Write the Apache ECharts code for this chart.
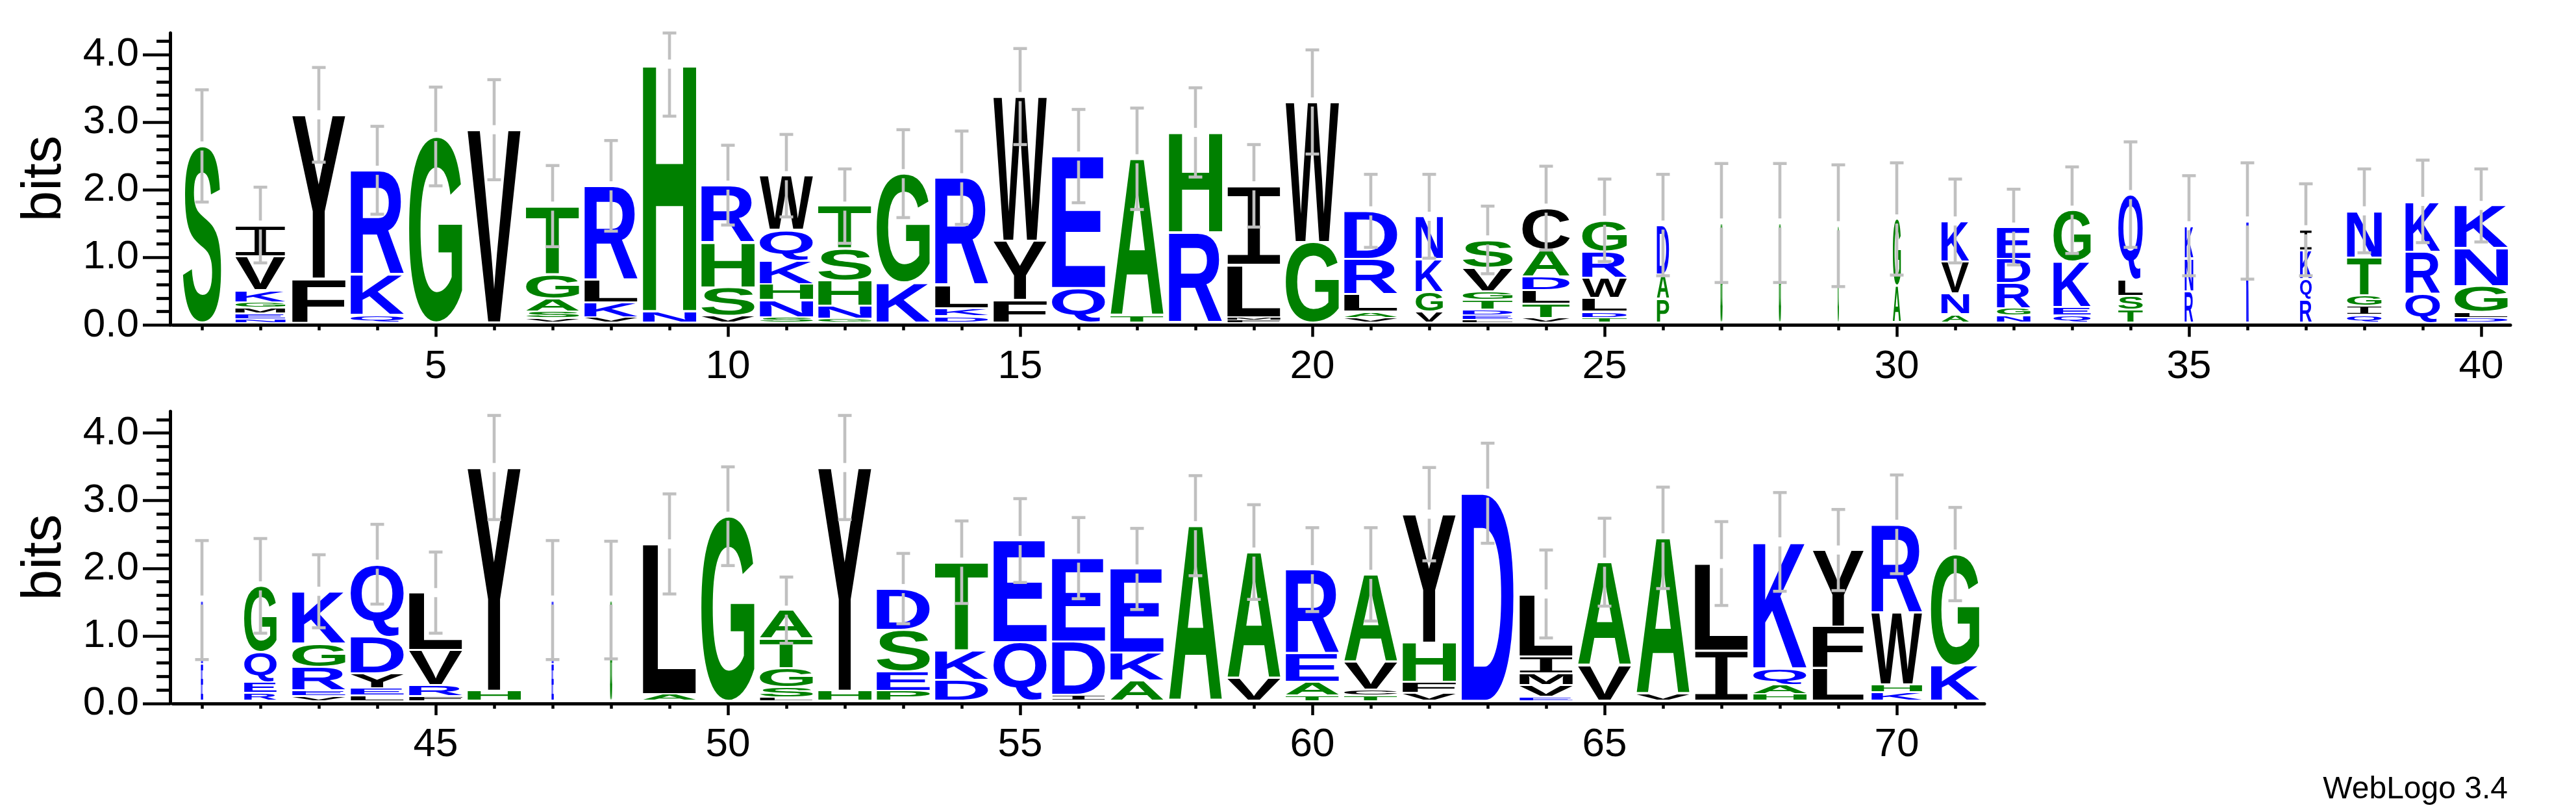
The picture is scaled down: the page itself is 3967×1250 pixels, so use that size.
<!DOCTYPE html>
<html>
<head>
<meta charset="utf-8">
<script src="https://cdn.jsdelivr.net/npm/echarts@6/dist/echarts.min.js"></script>
<style>
html,body{margin:0;padding:0;background:#ffffff;}
#chart{width:3967px;height:1250px;}
</style>
</head>
<body>
<div id="chart"></div>
<script>
// Letters of each stack, listed bottom -> top; heights in bits in the same order.
const lettersTop = ["S","NEMGKVI","FY","QKR","G","V","VSAGT","VKLR","NH","VSHR",
  "SNHKQW","GNHST","KG","DKLR","FYW","QE","TA","RH","FMLI","GW",
  "VALRD","VGKN","LEDTGVS","VTLDAC","TDLWRG","PAD","G","G","G","AG",
  "ANVK","NGRDE","QEKG","TSLQ","RNK","K","RQKI","QIGTN","QRK","DLGNK"];
const heightsTop = [
  [2.61],[0.05,0.09,0.08,0.08,0.18,0.50,0.46],[0.65,2.42],[0.11,0.60,1.54],[2.75],[2.85],
  [0.06,0.10,0.19,0.36,1.01],[0.08,0.22,0.33,1.39],[0.17,3.65],[0.10,0.42,0.66,0.85],
  [0.08,0.25,0.24,0.35,0.45,0.80],[0.06,0.19,0.37,0.47,0.63],[0.59,1.61],[0.09,0.12,0.34,1.59],
  [0.33,0.88,2.13],[0.51,1.95],[0.10,2.32],[1.33,1.48],[0.04,0.04,0.77,1.17],[1.19,2.07],
  [0.07,0.09,0.26,0.52,0.71],[0.16,0.29,0.49,0.63],[0.04,0.07,0.08,0.14,0.13,0.35,0.41],
  [0.07,0.21,0.20,0.20,0.40,0.61],[0.07,0.09,0.20,0.30,0.39,0.46],[0.35,0.36,0.73],
  [1.47],[1.47],[1.43],[0.54,0.99],[0.12,0.31,0.47,0.60],[0.10,0.11,0.37,0.36,0.47],
  [0.10,0.13,0.67,0.76],[0.19,0.20,0.24,1.26],[0.46,0.49,0.48],[1.50],[0.34,0.30,0.42,0.31],
  [0.11,0.14,0.15,0.56,0.69],[0.43,0.62,0.74],[0.07,0.09,0.38,0.56,0.63]];
const widthsTop = [0.72,0.94,1,1,1,1,1,1,1,1, 1,1,1,1,1,1,1,1,1,1,
  1,0.51,0.94,0.89,0.84,0.23,0.04,0.04,0.03,0.15, 0.52,0.63,0.70,0.46,0.16,0.05,0.22,0.65,0.65,1];
const errorsTop = [0.83,0.56,0.70,0.65,0.73,0.74,0.60,0.67,0.77,0.59,
  0.61,0.55,0.65,0.69,0.71,0.69,0.75,0.66,0.61,0.77,
  0.54,0.62,0.50,0.62,0.61,0.75,0.88,0.88,0.90,0.83,
  0.62,0.56,0.64,0.78,0.74,0.86,0.68,0.62,0.61,0.54];

const lettersBottom = ["EN","REQG","VERGK","LEYDQ","FRVL","HY","EN","G","AL","G",
  "LSGTA","HY","PESD","DKT","QE","IDE","AKE","A","VA","TAER",
  "TCVA","VFHY","D","EVMIL","VA","VA","IL","HAQK","LFY","KHWR","KG"];
const heightsBottom = [
  [0.54,0.95],[0.12,0.16,0.44,0.98],[0.07,0.08,0.35,0.35,0.77],[0.08,0.11,0.22,0.54,1.07],
  [0.07,0.16,0.52,0.85],[0.15,3.30],[0.54,0.95],[1.49],[0.10,2.22],[2.73],
  [0.05,0.15,0.28,0.44,0.42],[0.15,3.30],[0.15,0.29,0.61,0.61],[0.31,0.44,1.30],[0.87,1.50],
  [0.09,0.79,1.23],[0.30,0.41,1.24],[2.59],[0.33,1.87],[0.08,0.20,0.42,1.24],
  [0.08,0.09,0.41,1.29],[0.12,0.16,0.58,1.90],[3.07],[0.06,0.17,0.18,0.25,0.92],[0.52,1.53],
  [0.10,2.31],[0.74,1.29],[0.10,0.14,0.24,1.87],[0.48,0.62,1.13],[0.13,0.11,1.06,1.31],[0.52,1.65]];
const widthsBottom = [0.04,0.61,1,1,1,1,0.04,0.04,1,1, 1,1,1,1,1,1,1,1,1,1,
  1,1,0.98,1,1,1,1,1,0.96,0.95, 0.91];
const errorsBottom = [0.88,0.70,0.54,0.59,0.60,0.77,0.88,0.87,0.74,0.73,
  0.49,0.77,0.52,0.61,0.62,0.60,0.60,0.74,0.70,0.62,
  0.69,0.69,0.74,0.65,0.65,0.75,0.62,0.73,0.60,0.73, 0.69];

const firstPosTop = 1;
const firstPosBottom = 41;

// axis ticks and labels
const xTicksTop = [1,2,3,4,5,6,7,8,9,10,11,12,13,14,15,16,17,18,19,20,21,22,23,24,25,26,27,28,29,30,31,32,33,34,35,36,37,38,39,40];
const xLabelsTop = [5,10,15,20,25,30,35,40];
const xTicksBottom = [41,42,43,44,45,46,47,48,49,50,51,52,53,54,55,56,57,58,59,60,61,62,63,64,65,66,67,68,69,70,71];
const xLabelsBottom = [45,50,55,60,65,70];
const yMajorTicks = [0,1,2,3,4];
const yMinorTicks = [0.2,0.4,0.6,0.8,1.2,1.4,1.6,1.8,2.2,2.4,2.6,2.8,3.2,3.4,3.6,3.8,4.2];

// ---------------- STYLE ----------------
const YMAX = 4.32;
const BASE = 0.04;          // stacks start just above the x axis line
const BOX_FRAC = 82 / 90;   // full stack width as a fraction of one position
const PAD = 1.5;
const ERR_COLOR = '#c0c0c0';
const FONT_FAMILY = '"Liberation Sans", Arial, Helvetica, sans-serif';
const LETTER_FONT = 'bold 200px ' + FONT_FAMILY;
const I_FONT = '200px "Liberation Mono", "DejaVu Sans Mono", monospace';
const COLORS = {};
'RKDENQ'.split('').forEach(c => COLORS[c] = '#0000ff');
'SGHTAP'.split('').forEach(c => COLORS[c] = '#008000');
'YVMCLFIW'.split('').forEach(c => COLORS[c] = '#000000');

const metricCache = {};
const mctx = document.createElement('canvas').getContext('2d');
function metrics(ch) {
  if (metricCache[ch]) return metricCache[ch];
  const font = ch === 'I' ? I_FONT : LETTER_FONT;
  mctx.font = font;
  mctx.textBaseline = 'middle';
  mctx.textAlign = 'left';
  const m = mctx.measureText(ch);
  const r = {
    font: font,
    left: m.actualBoundingBoxLeft,
    asc: m.actualBoundingBoxAscent,
    w: m.actualBoundingBoxLeft + m.actualBoundingBoxRight,
    h: m.actualBoundingBoxAscent + m.actualBoundingBoxDescent
  };
  metricCache[ch] = r;
  return r;
}

function buildGlyphs(firstPos, letters, heights, widths) {
  const glyphs = [];
  letters.forEach((str, i) => {
    let y = BASE;
    for (let k = 0; k < str.length; k++) {
      const h = heights[i][k];
      glyphs.push({ value: [firstPos + i, y, y + h, widths[i]], ch: str[k] });
      y += h;
    }
  });
  return glyphs;
}
function buildErrors(firstPos, heights, errors) {
  return heights.map((hs, i) => {
    const top = BASE + hs.reduce((a, b) => a + b, 0);
    return [firstPos + i, top, errors[i]];
  });
}

function glyphEl(ch, bx0, bx1, by0, by1) {
  const m = metrics(ch);
  const sx = (bx1 - bx0) / m.w;
  const sy = Math.max(by1 - by0, 0.5) / m.h;
  return {
    type: 'text',
    x: bx0 + sx * m.left,
    y: by0 + sy * m.asc,
    scaleX: sx,
    scaleY: sy,
    silent: true,
    style: {
      x: 0, y: 0,
      text: ch,
      font: m.font,
      fill: COLORS[ch],
      align: 'left', verticalAlign: 'middle',
      textAlign: 'left', textVerticalAlign: 'middle'
    }
  };
}

function letterRenderer(glyphs) {
  return function (params, api) {
    const g = glyphs[params.dataIndex];
    const pos = api.value(0), y0 = api.value(1), y1 = api.value(2), w = api.value(3);
    const half = 0.5 * BOX_FRAC * w;
    const tl = api.coord([pos - half, y1]);
    const br = api.coord([pos + half, y0]);
    const bh = br[1] - tl[1];
    const pad = Math.min(PAD, bh * 0.15);
    const bx0 = tl[0], bx1 = br[0];
    const by0 = tl[1] + pad, by1 = br[1] - pad;
    const bw = bx1 - bx0;
    if (bw < 8) {
      // very narrow stacks: overlay a few 1px-shifted copies so the glyph reads as a solid sliver
      const inner = Math.max(1, bw - 2);
      const children = [];
      for (let d = 0; d <= bw - inner + 0.01; d += 0.5) {
        children.push(glyphEl(g.ch, bx0 + d, bx0 + d + inner, by0, by1));
      }
      return { type: 'group', silent: true, children: children };
    }
    return glyphEl(g.ch, bx0, bx1, by0, by1);
  };
}

function errorRenderer(params, api) {
  const pos = api.value(0), top = api.value(1), err = api.value(2);
  const hi = Math.min(top + err, YMAX), lo = Math.max(top - err, 0);
  const pT = api.coord([pos, hi]), pC = api.coord([pos, top]), pB = api.coord([pos, lo]);
  const x = pC[0], cw = 10.5, gap = 7;
  const st = { stroke: ERR_COLOR, lineWidth: 4.6, fill: null };
  return {
    type: 'group',
    silent: true,
    children: [
      { type: 'line', shape: { x1: x, y1: pT[1], x2: x, y2: pC[1] - gap }, style: st },
      { type: 'line', shape: { x1: x, y1: pC[1] + gap, x2: x, y2: pB[1] }, style: st },
      { type: 'line', shape: { x1: x - cw, y1: pT[1], x2: x + cw, y2: pT[1] }, style: st },
      { type: 'line', shape: { x1: x - cw, y1: pB[1], x2: x + cw, y2: pB[1] }, style: st }
    ]
  };
}

const glyphsTop = buildGlyphs(firstPosTop, lettersTop, heightsTop, widthsTop);
const glyphsBottom = buildGlyphs(firstPosBottom, lettersBottom, heightsBottom, widthsBottom);
const errTop = buildErrors(firstPosTop, heightsTop, errorsTop);
const errBottom = buildErrors(firstPosBottom, heightsBottom, errorsBottom);

const labelStyle = { fontSize: 62, fontFamily: FONT_FAMILY, color: '#000' };
function xAxes(grid, min, max, ticks, labels) {
  return [
    { gridIndex: grid, type: 'value', position: 'bottom', min: min, max: max,
      axisLine: { show: true, onZero: false, lineStyle: { color: '#000', width: 5 } },
      axisTick: { show: true, customValues: ticks, length: 8, lineStyle: { color: '#000', width: 4.5 } },
      axisLabel: { show: false }, splitLine: { show: false } },
    { gridIndex: grid, type: 'value', position: 'bottom', min: min, max: max,
      axisLine: { show: false, onZero: false },
      axisTick: { show: true, customValues: labels, length: 18, lineStyle: { color: '#000', width: 4.5 } },
      axisLabel: Object.assign({ show: true, customValues: labels, margin: 33 }, labelStyle),
      splitLine: { show: false } }
  ];
}
function yAxes(grid) {
  return [
    { gridIndex: grid, type: 'value', position: 'left', offset: 4, min: 0, max: YMAX,
      axisLine: { show: true, onZero: false, lineStyle: { color: '#000', width: 5 } },
      axisTick: { show: true, customValues: yMajorTicks, length: 42, lineStyle: { color: '#000', width: 4.7 } },
      axisLabel: Object.assign({ show: true, customValues: yMajorTicks, margin: 48,
        formatter: v => Number(v).toFixed(1) }, labelStyle),
      splitLine: { show: false } },
    { gridIndex: grid, type: 'value', position: 'left', offset: 4, min: 0, max: YMAX,
      axisLine: { show: false, onZero: false },
      axisTick: { show: true, customValues: yMinorTicks, length: 21, lineStyle: { color: '#000', width: 4.7 } },
      axisLabel: { show: false }, splitLine: { show: false } }
  ];
}

const option = {
  animation: false,
  backgroundColor: '#ffffff',
  grid: [
    { left: 266, top: 50.8, width: 3600, height: 449.7, outerBoundsMode: 'none', containLabel: false },
    { left: 266, top: 633.3, width: 2790, height: 449.7, outerBoundsMode: 'none', containLabel: false }
  ],
  xAxis: [].concat(xAxes(0, 0.5, 40.5, xTicksTop, xLabelsTop), xAxes(1, 40.5, 71.5, xTicksBottom, xLabelsBottom)),
  yAxis: [].concat(yAxes(0), yAxes(1)),
  series: [
    { type: 'custom', xAxisIndex: 0, yAxisIndex: 0, z: 2, clip: false,
      renderItem: letterRenderer(glyphsTop), data: glyphsTop.map(g => g.value) },
    { type: 'custom', xAxisIndex: 2, yAxisIndex: 2, z: 2, clip: false,
      renderItem: letterRenderer(glyphsBottom), data: glyphsBottom.map(g => g.value) },
    { type: 'custom', xAxisIndex: 0, yAxisIndex: 0, z: 3, clip: false,
      renderItem: errorRenderer, data: errTop },
    { type: 'custom', xAxisIndex: 2, yAxisIndex: 2, z: 3, clip: false,
      renderItem: errorRenderer, data: errBottom }
  ],
  graphic: [
    { type: 'text', x: 70, y: 275, rotation: Math.PI / 2,
      style: { text: 'bits', font: '85px ' + FONT_FAMILY, fill: '#000', align: 'center', verticalAlign: 'middle' } },
    { type: 'text', x: 70, y: 858, rotation: Math.PI / 2,
      style: { text: 'bits', font: '85px ' + FONT_FAMILY, fill: '#000', align: 'center', verticalAlign: 'middle' } },
    { type: 'text', x: 3862, y: 1216,
      style: { text: 'WebLogo 3.4', font: '48px ' + FONT_FAMILY, fill: '#000', align: 'right', verticalAlign: 'middle' } }
  ]
};

function draw() {
  const chart = echarts.init(document.getElementById('chart'), null, { renderer: 'canvas' });
  chart.setOption(option);
}
if (document.fonts && document.fonts.load) {
  Promise.all([
    document.fonts.load(LETTER_FONT, 'ACDEFGHIKLMNPQRSTVWY'),
    document.fonts.load(I_FONT, 'I')
  ]).then(draw, draw);
} else {
  draw();
}
</script>
</body>
</html>
